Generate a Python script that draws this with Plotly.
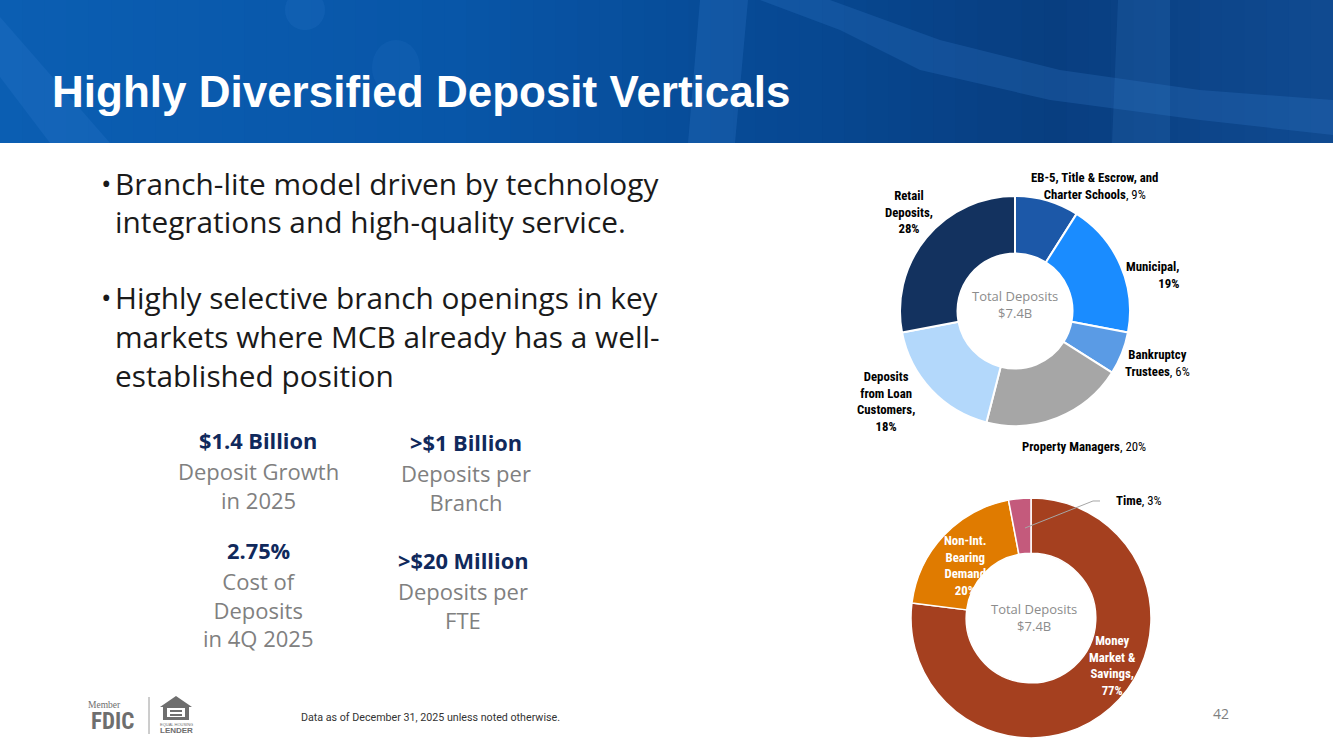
import plotly.graph_objects as go

W, H = 1333, 749

# ---------------- data ----------------
vertical_names = ["EB-5, Title & Escrow, and Charter Schools", "Municipal", "Bankruptcy Trustees",
                  "Property Managers", "Deposits from Loan Customers", "Retail Deposits"]
vertical_values = [9, 19, 6, 20, 18, 28]
vertical_colors = ["#1c58a8", "#1a8cff", "#5a9be5", "#a6a6a6", "#b3d8fb", "#13325f"]

type_names = ["Money Market & Savings", "Non-Int. Bearing Demand", "Time"]
type_values = [77, 20, 3]
type_colors = ["#a5401f", "#e07b00", "#c45a7c"]

total_deposits = "$7.4B"

stat_values = ["$1.4 Billion", ">$1 Billion", "2.75%", ">$20 Million"]
stat_captions = ["Deposit Growth<br>in 2025", "Deposits per<br>Branch", "Cost of<br>Deposits<br>in 4Q 2025",
                 "Deposits per<br>FTE"]

bullets = [["Branch-lite model driven by technology", "integrations and high-quality service."],
           ["Highly selective branch openings in key", "markets where MCB already has a well-",
            "established position"]]

title = "Highly Diversified Deposit Verticals"
footnote = "Data as of December 31, 2025 unless noted otherwise."
page_number = "42"

# ---------------- helpers ----------------
def px(x):
    return x / W


def py(y):
    return 1 - y / H


annotations = []
shapes = []
BODY = "Open Sans, Roboto, sans-serif"


def text(x, y, s, size, color, family=BODY, xanchor="center", yanchor="middle",
         align="center"):
    annotations.append(dict(x=px(x), y=py(y), xref="paper", yref="paper", text=s, showarrow=False,
                            xanchor=xanchor, yanchor=yanchor, align=align,
                            font=dict(size=size, color=color, family=family)))


def path(points, fill=None, line=None, width=0, opacity=1.0, close=True, layer="below"):
    d = "M " + " L ".join(f"{px(a):.5f},{py(b):.5f}" for a, b in points)
    if close:
        d += " Z"
    shapes.append(dict(type="path", xref="paper", yref="paper", path=d,
                       fillcolor=fill if fill else "rgba(0,0,0,0)",
                       line=dict(color=line if line else "rgba(0,0,0,0)", width=width),
                       opacity=opacity, layer=layer))


def rect(x0, y0, x1, y1, fill, opacity=1.0, layer="below"):
    shapes.append(dict(type="rect", xref="paper", yref="paper", x0=px(x0), x1=px(x1), y0=py(y1), y1=py(y0),
                       fillcolor=fill, line=dict(width=0), opacity=opacity, layer=layer))


# ---------------- header background ----------------
HB = 143
stops = [(0, (11, 94, 178)), (450, (8, 86, 168)), (800, (7, 72, 146)), (1050, (8, 62, 128)),
         (1333, (16, 74, 145))]


def col_at(x):
    for (x0, c0), (x1, c1) in zip(stops[:-1], stops[1:]):
        if x0 <= x <= x1:
            t = (x - x0) / (x1 - x0)
            return tuple(int(round(c0[i] + t * (c1[i] - c0[i]))) for i in range(3))
    return stops[-1][1]


n = 60
for i in range(n):
    x0 = W * i / n
    x1 = W * (i + 1) / n + 1
    c = col_at((x0 + x1) / 2)
    rect(x0, 0, x1, HB, f"rgb{c}")

light = "#3d86d6"
path([(0, 17), (0, 77), (50, HB), (110, HB)], fill=light, opacity=0.18)
path([(700, 0), (748, 0), (735, HB), (688, HB)], fill=light, opacity=0.22)
path([(760, 0), (830, 0), (940, 40), (1060, 70), (1200, 90), (1333, 100), (1333, 135), (1200, 120),
      (1050, 100), (920, 70), (840, 30)], fill=light, opacity=0.22)
path([(1118, 0), (1170, 0), (1170, HB), (1112, HB)], fill=light, opacity=0.16)
shapes.append(dict(type="circle", xref="paper", yref="paper", x0=px(285), x1=px(325), y0=py(30), y1=py(-10),
                   fillcolor=light, line=dict(width=0), opacity=0.15, layer="below"))
shapes.append(dict(type="circle", xref="paper", yref="paper", x0=px(372), x1=px(420), y0=py(95), y1=py(40),
                   fillcolor=light, line=dict(width=0), opacity=0.12, layer="below"))

text(50, 91, f"<b>{title}</b>", 44, "white", family="Liberation Sans, Arial, sans-serif", xanchor="left")

# ---------------- bullets ----------------
body_color = "#1a1a1a"
line_y = [[183, 221], [297, 336, 375]]
for blines, ys in zip(bullets, line_y):
    for j, (s, y) in enumerate(zip(blines, ys)):
        if j == 0:
            text(99, y, "•", 28, body_color, xanchor="left")
        text(113, y, s, 29.8, body_color, xanchor="left")

# ---------------- stats ----------------
navy = "#10295c"
grey = "#808080"
stat_pos = [(258, 440), (466, 442), (258, 550), (463, 560)]
for (x, yv), v, c in zip(stat_pos, stat_values, stat_captions):
    text(x, yv, f"<b>{v}</b>", 21.8, navy)
    annotations.append(dict(x=px(x), y=py(yv + 14), xref="paper", yref="paper", text=c, showarrow=False,
                            xanchor="center", yanchor="top", align="center",
                            font=dict(size=22, color=grey, family=BODY)))

# ---------------- donut charts ----------------
fig = go.Figure()

c1x, c1y, r1 = 1015, 311, 115
fig.add_trace(go.Pie(labels=vertical_names, values=vertical_values, hole=0.5, sort=False,
                     direction="clockwise", rotation=0,
                     marker=dict(colors=vertical_colors, line=dict(color="white", width=2)),
                     textinfo="none", hoverinfo="label+percent", showlegend=False,
                     domain=dict(x=[px(c1x - r1), px(c1x + r1)], y=[py(c1y + r1), py(c1y - r1)])))

c2x, c2y, r2 = 1031, 618, 120
fig.add_trace(go.Pie(labels=type_names, values=type_values, hole=0.54, sort=False,
                     direction="clockwise", rotation=0,
                     marker=dict(colors=type_colors, line=dict(color="white", width=1.5)),
                     textinfo="none", hoverinfo="label+percent", showlegend=False,
                     domain=dict(x=[px(c2x - r2), px(c2x + r2)], y=[py(c2y + r2), py(c2y - r2)])))

center_grey = "#8c8c8c"
text(c1x, c1y - 7, f"Total Deposits<br>{total_deposits}", 13, center_grey)
text(c2x + 3, c2y - 1, f"Total Deposits<br>{total_deposits}", 13, center_grey)

lab_font = "Liberation Sans Narrow, Roboto Condensed, Arial Narrow, Liberation Sans, sans-serif"
LS = 12.8

v = vertical_values
n_ = vertical_names
text(1094, 186, f"<b>EB-5, Title &amp; Escrow, and<br>Charter Schools</b>, {v[0]}%", LS, "black", lab_font)
text(1181, 275, f"<b>{n_[1]},<br>{v[1]}%</b>", LS, "black", lab_font, xanchor="right", align="right")
text(1157, 363, f"<b>Bankruptcy<br>Trustees</b>, {v[2]}%", LS, "black", lab_font)
text(1084, 446, f"<b>{n_[3]}</b>, {v[3]}%", LS, "black", lab_font)
text(886, 401, f"<b>Deposits<br>from Loan<br>Customers,<br>{v[4]}%</b>", LS, "black", lab_font)
text(909, 212, f"<b>Retail<br>Deposits,<br>{v[5]}%</b>", LS, "black", lab_font)

tv = type_values
text(1112, 665, f"<b>Money<br>Market &amp;<br>Savings,<br>{tv[0]}%</b>", LS, "white", lab_font)
text(965, 565, f"<b>Non-Int.<br>Bearing<br>Demand<br>{tv[1]}%</b>", LS, "white", lab_font)
text(1139, 500, f"<b>{type_names[2]}</b>, {tv[2]}%", LS, "black", lab_font)
path([(1025, 528), (1093, 501), (1100, 501)], line="#a6a6a6", width=1, close=False, layer="above")

# ---------------- footer ----------------
text(299, 717, footnote, 10.7, "#333333", family="Roboto, sans-serif", xanchor="left")
text(1221, 713, page_number, 14, "#7f7f7f", family=BODY)

logo_grey = "#6e6e6e"
text(104, 705, "Member", 9.5, logo_grey, family="Liberation Serif, DejaVu Serif, serif")
text(112, 721, "<b>FDIC</b>", 23, logo_grey, family="Liberation Sans Narrow, Roboto Condensed, Arial Narrow, sans-serif")
shapes.append(dict(type="line", xref="paper", yref="paper", x0=px(149), x1=px(149), y0=py(697), y1=py(734),
                   line=dict(color="#9a9a9a", width=1)))
path([(176, 696), (160, 707), (163, 707), (163, 720), (189, 720), (189, 707), (192, 707)], fill=logo_grey)
path([(167, 708), (185, 708), (185, 717), (167, 717)], fill="white")
rect(170, 710, 182, 712, logo_grey)
rect(170, 714, 182, 716, logo_grey)
text(176, 724, "EQUAL HOUSING", 4, logo_grey, family="Liberation Sans Narrow, sans-serif")
text(176, 730, "<b>LENDER</b>", 8, logo_grey, family="Liberation Sans Narrow, sans-serif")

fig.update_layout(width=W, height=H, margin=dict(l=0, r=0, t=0, b=0), autosize=False,
                  paper_bgcolor="white", plot_bgcolor="white",
                  annotations=annotations, shapes=shapes, showlegend=False)

fig.write_html("out.html", config={"displayModeBar": False},
               post_script="document.body.style.margin='0px';document.body.style.overflow='hidden';")
